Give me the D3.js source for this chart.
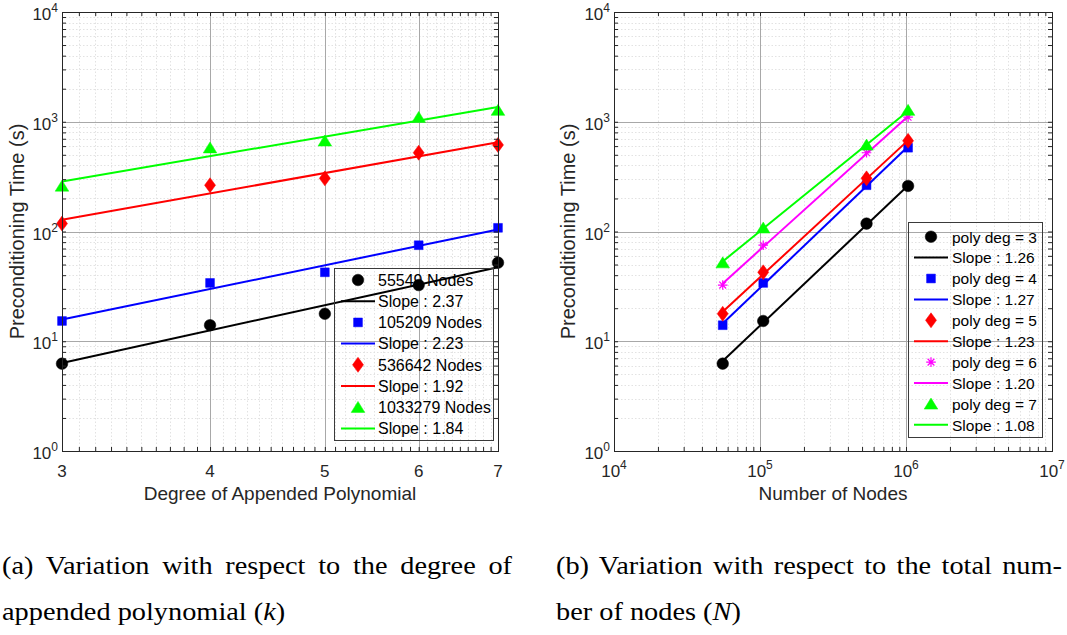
<!DOCTYPE html>
<html>
<head>
<meta charset="utf-8">
<script src="https://cdn.jsdelivr.net/npm/d3@7"></script>
<style>
  html, body { margin: 0; padding: 0; background: #ffffff; }
  svg { display: block; }
</style>
</head>
<body>
<svg id="chart" width="1067" height="635"></svg>
<script>
// Preconditioning time (s) for each mesh size, at polynomial degrees 3..7
const polyDegrees = [3, 4, 5, 6, 7];
const nodeCounts = [55549, 105209, 536642, 1033279];
const times55549   = [6.25, 14.0, 17.8, 32.5, 52];
const times105209  = [15.3, 34.0, 42.5, 75, 108];
const times536642  = [118, 264, 305, 522, 615];
const times1033279 = [260, 580, 670, 1100, 1275];

// Slopes of the log-log fits quoted in the legends
const slopesByNodes = [2.37, 2.23, 1.92, 1.84];
const slopesByDegree = [1.26, 1.27, 1.23, 1.20, 1.08];

const nodeLabels = ["55549 Nodes", "105209 Nodes", "536642 Nodes", "1033279 Nodes"];
const degreeLabels = ["poly deg = 3", "poly deg = 4", "poly deg = 5", "poly deg = 6", "poly deg = 7"];

// Axis ticks
const timeTicks = [1, 10, 100, 1000, 10000];
const degreeTicks = [3, 4, 5, 6, 7];
const nodeTicks = [1e4, 1e5, 1e6, 1e7];

const yLabelText = "Preconditioning Time (s)";
const xLabelLeft = "Degree of Appended Polynomial";
const xLabelRight = "Number of Nodes";

const captionA = ["(a) Variation with respect to the degree of", "appended polynomial "];
const captionB = ["(b) Variation with respect to the total num-", "ber of nodes "];

// ---------------------------------------------------------------
const timeTable = [times55549, times105209, times536642, times1033279];
const FONT = "'Liberation Sans', Arial, sans-serif";
const AXIS_COLOR = "#262626";

// Marker shapes, drawn around the origin
const markCircle = { draw(ctx) { ctx.moveTo(5.8, 0); ctx.arc(0, 0, 5.8, 0, 2 * Math.PI); } };
const markSquare = { draw(ctx) { ctx.rect(-4.4, -4.4, 8.8, 8.8); } };
const markDiamond = { draw(ctx) { ctx.moveTo(0, -7.5); ctx.lineTo(5.5, 0); ctx.lineTo(0, 7.5); ctx.lineTo(-5.5, 0); ctx.closePath(); } };
const markTriangle = { draw(ctx) { ctx.moveTo(0, -5.8); ctx.lineTo(6.8, 5.2); ctx.lineTo(-6.8, 5.2); ctx.closePath(); } };
const markAsterisk = { draw(ctx) {
  const r = 4.8, d = r * Math.SQRT1_2;
  ctx.moveTo(-r, 0); ctx.lineTo(r, 0);
  ctx.moveTo(0, -r); ctx.lineTo(0, r);
  ctx.moveTo(-d, -d); ctx.lineTo(d, d);
  ctx.moveTo(-d, d); ctx.lineTo(d, -d);
} };

const leftSeries = nodeCounts.map((n, i) => ({
  label: nodeLabels[i],
  slope: slopesByNodes[i],
  color: ["#000000", "#0000ff", "#ff0000", "#00ff00"][i],
  marker: [markCircle, markSquare, markDiamond, markTriangle][i],
  stroked: false,
  points: polyDegrees.map((k, j) => ({ x: k, y: timeTable[i][j] }))
}));

const rightSeries = polyDegrees.map((k, j) => ({
  label: degreeLabels[j],
  slope: slopesByDegree[j],
  color: ["#000000", "#0000ff", "#ff0000", "#ff00ff", "#00ff00"][j],
  marker: [markCircle, markSquare, markDiamond, markAsterisk, markTriangle][j],
  stroked: j === 3,
  points: nodeCounts.map((n, i) => ({ x: n, y: timeTable[i][j] }))
}));

// Power-law line with a fixed slope, intercept by least squares in log space
function fitLine(points, slope) {
  const lx = points.map(p => Math.log10(p.x));
  const ly = points.map(p => Math.log10(p.y));
  const b = d3.mean(ly) - slope * d3.mean(lx);
  const xs = d3.extent(points, p => p.x);
  return xs.map(x => ({ x, y: Math.pow(10, b + slope * Math.log10(x)) }));
}

function decadeMinors(lo, hi) {
  const out = [];
  for (let e = Math.log10(lo); e < Math.log10(hi); e++) {
    for (let m = 2; m <= 9; m++) out.push(m * Math.pow(10, e));
  }
  return out;
}

const svg = d3.select("#chart");

function powerLabel(textSel, v, supSize) {
  const e = Math.round(Math.log10(v));
  textSel.append("tspan").text("10");
  textSel.append("tspan").attr("font-size", supSize).attr("dy", -8).text(e);
}

function drawPanel(cfg) {
  const g = svg.append("g");
  const x = d3.scaleLog().domain(cfg.xDomain).range([cfg.left, cfg.right]);
  const y = d3.scaleLog().domain([1, 10000]).range([cfg.bottom, cfg.top]);

  const yMinor = decadeMinors(1, 10000);

  // minor grid (dotted)
  const minor = g.append("g")
    .attr("stroke", "#e2e2e2").attr("stroke-width", 1)
    .attr("stroke-dasharray", "1.5,2").attr("fill", "none");
  minor.selectAll("line.vx").data(cfg.xMinor).join("line")
    .attr("x1", d => Math.round(x(d)) + 0.5).attr("x2", d => Math.round(x(d)) + 0.5)
    .attr("y1", cfg.top).attr("y2", cfg.bottom);
  minor.selectAll("line.hy").data(yMinor).join("line")
    .attr("y1", d => Math.round(y(d)) + 0.5).attr("y2", d => Math.round(y(d)) + 0.5)
    .attr("x1", cfg.left).attr("x2", cfg.right);

  // major grid
  const major = g.append("g").attr("stroke", "#a8a8a8").attr("stroke-width", 1);
  major.selectAll("line.vx").data(cfg.xTicks).join("line")
    .attr("x1", d => Math.round(x(d)) + 0.5).attr("x2", d => Math.round(x(d)) + 0.5)
    .attr("y1", cfg.top).attr("y2", cfg.bottom);
  major.selectAll("line.hy").data(timeTicks).join("line")
    .attr("y1", d => Math.round(y(d)) + 0.5).attr("y2", d => Math.round(y(d)) + 0.5)
    .attr("x1", cfg.left).attr("x2", cfg.right);

  // data: markers then fitted line, per series
  const line = d3.line().x(d => x(d.x)).y(d => y(d.y));
  cfg.series.forEach(s => {
    const sym = d3.symbol().type(s.marker);
    g.append("g").selectAll("path").data(s.points).join("path")
      .attr("transform", d => `translate(${x(d.x)},${y(d.y)})`)
      .attr("d", sym())
      .attr("fill", s.stroked ? "none" : s.color)
      .attr("stroke", s.color)
      .attr("stroke-width", s.stroked ? 1.2 : 0.5);
    g.append("path").datum(fitLine(s.points, s.slope))
      .attr("d", line).attr("fill", "none")
      .attr("stroke", s.color).attr("stroke-width", 2);
  });

  // frame with inward ticks on all four sides
  const xAll = cfg.xTicks.concat(cfg.xMinor);
  const yAll = timeTicks.concat(yMinor);
  const mk = (axis, vals) => axis.tickValues(vals).tickSizeInner(-4).tickSizeOuter(0).tickFormat("");
  const axes = g.append("g");
  axes.append("g").attr("transform", `translate(0,${cfg.bottom})`).call(mk(d3.axisBottom(x), xAll));
  axes.append("g").attr("transform", `translate(0,${cfg.top})`).call(mk(d3.axisTop(x), xAll));
  axes.append("g").attr("transform", `translate(${cfg.left},0)`).call(mk(d3.axisLeft(y), yAll));
  axes.append("g").attr("transform", `translate(${cfg.right},0)`).call(mk(d3.axisRight(y), yAll));
  axes.selectAll(".domain").remove();
  axes.selectAll(".tick line").attr("stroke", AXIS_COLOR);
  g.append("rect")
    .attr("x", cfg.left + 0.5).attr("y", cfg.top + 0.5)
    .attr("width", cfg.right - cfg.left).attr("height", cfg.bottom - cfg.top)
    .attr("fill", "none").attr("stroke", AXIS_COLOR).attr("stroke-width", 1);

  // tick labels
  const labels = g.append("g").attr("font-family", FONT).attr("fill", AXIS_COLOR);
  timeTicks.forEach(v => {
    const t = labels.append("text")
      .attr("x", cfg.left - 4).attr("y", y(v) + 8)
      .attr("text-anchor", "end").attr("font-size", 17);
    powerLabel(t, v, 12);
  });
  cfg.xTicks.forEach(v => {
    const t = labels.append("text")
      .attr("x", x(v)).attr("y", cfg.bottom + 26)
      .attr("text-anchor", "middle").attr("font-size", 17);
    if (cfg.powerTicks) powerLabel(t, v, 12); else t.text(v);
  });

  // axis titles
  labels.append("text")
    .attr("x", (cfg.left + cfg.right) / 2).attr("y", cfg.bottom + 49)
    .attr("text-anchor", "middle").attr("font-size", 19).text(cfg.xLabel);
  labels.append("text")
    .attr("transform", `translate(${cfg.yLabelX},${(cfg.top + cfg.bottom) / 2}) rotate(-90)`)
    .attr("text-anchor", "middle").attr("dominant-baseline", "central")
    .attr("font-size", 20).text(yLabelText);

  // legend: transparent box, marker row then line row for each series
  const L = cfg.legend;
  const lg = g.append("g").attr("font-family", FONT);
  const rows = [];
  cfg.series.forEach(s => {
    rows.push({ kind: "marker", s, text: s.label });
    rows.push({ kind: "line", s, text: "Slope : " + s.slope.toFixed(2) });
  });
  rows.forEach((r, i) => {
    const cy = L.firstRow + i * L.step;
    if (r.kind === "marker") {
      lg.append("path")
        .attr("transform", `translate(${(L.lineX1 + L.lineX2) / 2},${cy})`)
        .attr("d", d3.symbol().type(r.s.marker)())
        .attr("fill", r.s.stroked ? "none" : r.s.color)
        .attr("stroke", r.s.color).attr("stroke-width", r.s.stroked ? 1.2 : 0.5);
    } else {
      lg.append("line")
        .attr("x1", L.lineX1).attr("x2", L.lineX2).attr("y1", cy).attr("y2", cy)
        .attr("stroke", r.s.color).attr("stroke-width", 2);
    }
    lg.append("text")
      .attr("x", L.textX).attr("y", cy + 5.8)
      .attr("font-size", L.fontSize).attr("fill", "#000000")
      .text(r.text);
  });
  lg.append("rect")
    .attr("x", L.x0 + 0.5).attr("y", L.y0 + 0.5)
    .attr("width", L.x1 - L.x0).attr("height", L.y1 - L.y0)
    .attr("fill", "none").attr("stroke", "#3a3a3a").attr("stroke-width", 1);
}

drawPanel({
  left: 62, right: 498, top: 12, bottom: 451,
  xDomain: [3, 7],
  xTicks: degreeTicks,
  xMinor: d3.range(30, 70).filter(v => v % 10 !== 0).map(v => v / 10),
  powerTicks: false,
  xLabel: xLabelLeft,
  yLabelX: 17,
  series: leftSeries,
  legend: { x0: 334, x1: 493, y0: 268, y1: 440, firstRow: 280, step: 21.2,
            lineX1: 341, lineX2: 375, textX: 378, fontSize: 16 }
});

drawPanel({
  left: 614, right: 1052, top: 12, bottom: 451,
  xDomain: [1e4, 1e7],
  xTicks: nodeTicks,
  xMinor: decadeMinors(1e4, 1e7),
  powerTicks: true,
  xLabel: xLabelRight,
  yLabelX: 568,
  series: rightSeries,
  legend: { x0: 908, x1: 1042, y0: 222, y1: 437, firstRow: 236.7, step: 20.9,
            lineX1: 914, lineX2: 948, textX: 952, fontSize: 15.5 }
});

// Sub-figure captions: slightly widened serif glyphs, first line justified
const CAP_SX = 1.09;
const cap = svg.append("g")
  .attr("font-family", "'Liberation Serif', 'Times New Roman', serif")
  .attr("font-size", 26).attr("fill", "#000000");

function captionBlock(lines, x, width, italicSym) {
  const t1 = cap.append("text")
    .attr("transform", `translate(${x},574) scale(${CAP_SX},1)`)
    .text(lines[0]);
  const natural = t1.node().getComputedTextLength();
  const gaps = lines[0].split(" ").length - 1;
  const extra = (width / CAP_SX - natural) / gaps;
  t1.attr("word-spacing", extra);

  const t2 = cap.append("text")
    .attr("transform", `translate(${x},620) scale(${CAP_SX},1)`);
  t2.append("tspan").text(lines[1] + "(");
  t2.append("tspan").attr("font-style", "italic").text(italicSym);
  t2.append("tspan").text(")");
}
captionBlock(captionA, 2, 510, "k");
captionBlock(captionB, 556, 506, "N");
</script>
</body>
</html>
